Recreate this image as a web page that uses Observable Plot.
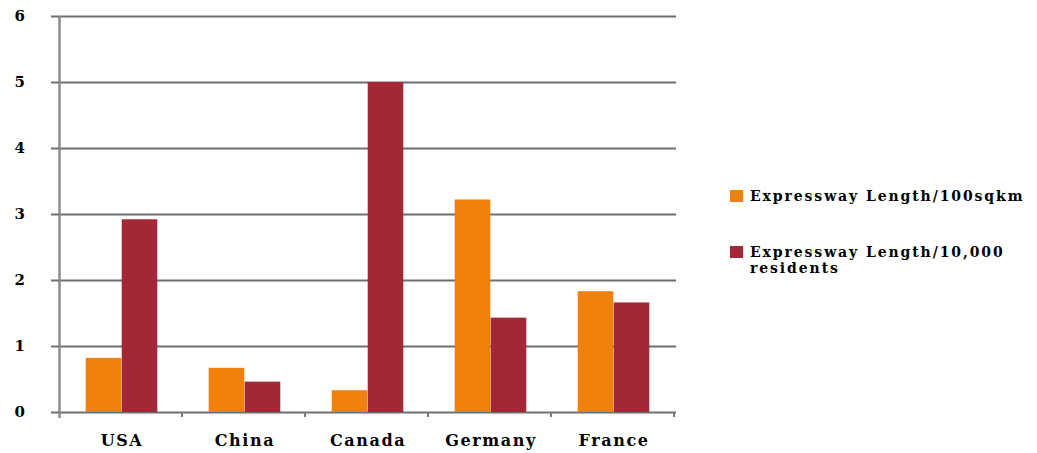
<!DOCTYPE html>
<html>
<head>
<meta charset="utf-8">
<script src="https://cdn.jsdelivr.net/npm/d3@7"></script>
<script src="https://cdn.jsdelivr.net/npm/@observablehq/plot@0.6"></script>
<style>
  html, body { margin: 0; padding: 0; background: #fff; }
  #wrap { position: relative; width: 1037px; height: 453px; }
  .legend { position: absolute; left: 730px; font-family: "DejaVu Serif", serif; font-weight: bold;
            font-size: 14px; letter-spacing: 1.9px; color: #000; line-height: 16px; }
  .legend .sw { position: absolute; left: 0; top: 2px; width: 13px; height: 12px; }
  .legend .tx { position: absolute; left: 20px; white-space: nowrap; }
</style>
</head>
<body>
<div id="wrap"></div>
<script>
// Expressway length per country, two measures
const countries = ["USA", "China", "Canada", "Germany", "France"];
const perArea = [0.82, 0.67, 0.33, 3.22, 1.83];        // Expressway Length/100sqkm
const perResidents = [2.92, 0.46, 5.0, 1.43, 1.66];    // Expressway Length/10,000 residents
const yTicks = [0, 1, 2, 3, 4, 5, 6];
const seriesNames = ["Expressway Length/100sqkm", "Expressway Length/10,000\nresidents"];
const colors = ["#ef800b", "#a22837"];

const areaRows = countries.map((c, i) => ({country: c, value: perArea[i]}));
const resRows = countries.map((c, i) => ({country: c, value: perResidents[i]}));

const W = 1037, H = 453;
const mL = 59, mR = W - 676, mT = 16, mB = H - 412;
const step = (W - mL - mR) / countries.length;
const barW = 36;
const pairLeft = (step - 2 * barW) / 2;

// small tick marks at every category boundary, hanging below the baseline
function bandEdges(index, scales) {
  const x = scales.x, y = scales.y;
  const dom = x.domain();
  const s = x.step ? x.step() : step;
  const edges = dom.map(d => x(d)).concat([x(dom[dom.length - 1]) + s]);
  const g = d3.create("svg:g");
  const y0 = y(0);
  g.selectAll("line").data(edges.slice(1)).join("line")
    .attr("x1", d => d - 1).attr("x2", d => d - 1)
    .attr("y1", y0).attr("y2", y0 + 5)
    .attr("stroke", "#777").attr("stroke-width", 2);
  // vertical value axis
  g.append("line")
    .attr("x1", edges[0] - 0.5).attr("x2", edges[0] - 0.5)
    .attr("y1", y(6)).attr("y2", y0 + 6)
    .attr("stroke", "#8c8c8c").attr("stroke-width", 2.5);
  return g.node();
}

const font = "DejaVu Serif";

const chart = Plot.plot({
  width: W,
  height: H,
  marginLeft: mL,
  marginRight: mR,
  marginTop: mT,
  marginBottom: mB,
  style: {fontFamily: font, fontWeight: "bold", background: "transparent"},
  x: {domain: countries, padding: 0, label: null},
  y: {domain: [0, 6], label: null},
  marks: [
    Plot.ruleY(yTicks, {stroke: "#6f6f6f", strokeWidth: 2, strokeOpacity: 1}),
    Plot.barY(areaRows, {x: "country", y: "value", fill: colors[0],
      insetLeft: pairLeft, insetRight: step - pairLeft - barW}),
    Plot.barY(resRows, {x: "country", y: "value", fill: colors[1],
      insetLeft: pairLeft + barW, insetRight: pairLeft}),
    bandEdges,
    Plot.axisY(yTicks, {tickSize: 8, tickPadding: 25, tickFormat: d => String(d),
      stroke: "#6f6f6f", strokeWidth: 2, strokeOpacity: 1,
      fontSize: 15, fill: "#000", fontWeight: "bold", textAnchor: "end"}),
    Plot.axisX({tickSize: 0, tickPadding: 22, fontSize: 16, fill: "#000", fontWeight: "bold"})
  ]
});

const wrap = document.getElementById("wrap");
wrap.appendChild(chart);
chart.querySelectorAll("text").forEach(t => { t.style.letterSpacing = "1.6px"; });

// legend on the right
const legendTops = [188, 244];
seriesNames.forEach((name, i) => {
  const item = document.createElement("div");
  item.className = "legend";
  item.style.top = legendTops[i] + "px";
  const sw = document.createElement("div");
  sw.className = "sw";
  sw.style.background = colors[i];
  item.appendChild(sw);
  name.split("\n").forEach((line, j) => {
    const tx = document.createElement("div");
    tx.className = "tx";
    tx.style.top = (j * 16) + "px";
    tx.textContent = line;
    item.appendChild(tx);
  });
  wrap.appendChild(item);
});
</script>
</body>
</html>
